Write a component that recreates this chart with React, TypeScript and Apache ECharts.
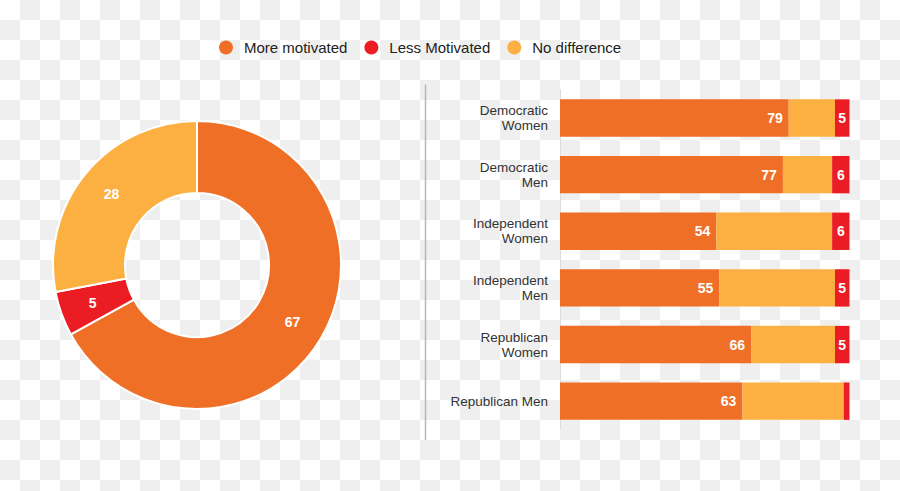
import React, { useEffect, useRef } from "react";
import * as echarts from "echarts";

const seriesNames = ["More motivated", "Less Motivated", "No difference"];
const colors = ["#EF6F26", "#EC1C24", "#FDB042"];
const overallValues = [67, 5, 28];

const groups = [
  "Democratic\nWomen",
  "Democratic\nMen",
  "Independent\nWomen",
  "Independent\nMen",
  "Republican\nWomen",
  "Republican Men",
];
const moreValues = [79, 77, 54, 55, 66, 63];
const noDiffValues = [16, 17, 40, 40, 29, 35];
const lessValues = [5, 6, 6, 5, 5, 2];

const FONT = "Liberation Sans, Arial, Helvetica, sans-serif";

function checkerboard(w: number, h: number, size: number) {
  const cells: any[] = [];
  for (let r = 0; r * size < h; r++) {
    for (let c = 0; c * size < w; c++) {
      if ((r + c) % 2 === 1) {
        cells.push({
          type: "rect",
          shape: { x: c * size, y: r * size, width: size, height: size },
          style: { fill: "#efefef" },
          silent: true,
        });
      }
    }
  }
  return { type: "group", z: -100, silent: true, children: cells };
}

export default function App() {
  const ref = useRef<HTMLDivElement>(null);
  useEffect(() => {
    if (!ref.current) return;
    const chart = echarts.init(ref.current, null, { renderer: "svg" });
    const valueLabel = (min: number) => ({
      show: true,
      color: "#fff",
      fontWeight: "bold" as const,
      fontSize: 14,
      fontFamily: FONT,
      formatter: (p: any) => (p.value >= min ? String(p.value) : ""),
    });
    chart.setOption({
      animation: false,
      backgroundColor: "#ffffff",
      textStyle: { fontFamily: FONT },
      legend: {
        data: seriesNames,
        left: 214,
        top: 35,
        icon: "circle",
        itemWidth: 14,
        itemHeight: 14,
        itemGap: 17,
        textStyle: {
          fontSize: 15,
          color: "#222",
          fontFamily: FONT,
          padding: [0, 0, 0, 6],
        },
        selectedMode: false,
      },
      grid: { left: 560, right: 50.5, top: 89.7, bottom: 61.5 },
      xAxis: { type: "value", min: 0, max: 100, show: false },
      yAxis: {
        type: "category",
        data: groups,
        inverse: true,
        axisLine: { show: true, lineStyle: { color: "#ddd", width: 1 } },
        axisTick: { show: false },
        axisLabel: {
          margin: 12,
          fontSize: 13.5,
          lineHeight: 15,
          color: "#333",
          align: "right",
          fontFamily: FONT,
        },
      },
      graphic: [
        checkerboard(900, 491, 20),
        {
          type: "line",
          shape: { x1: 425.5, y1: 84.5, x2: 425.5, y2: 440 },
          style: { stroke: "#b8b8b8", lineWidth: 1.5 },
        },
      ],
      series: [
        {
          type: "pie",
          name: "Overall",
          center: [197, 265],
          radius: [72, 144],
          startAngle: 90,
          clockwise: true,
          avoidLabelOverlap: false,
          itemStyle: { borderColor: "#fff", borderWidth: 2 },
          label: {
            show: true,
            position: "inside",
            color: "#fff",
            fontWeight: "bold",
            fontSize: 14,
            fontFamily: FONT,
            formatter: "{c}",
          },
          labelLine: { show: false },
          emphasis: { disabled: true },
          data: seriesNames.map((n, i) => ({
            name: n,
            value: overallValues[i],
            itemStyle: { color: colors[i] },
          })),
        },
        {
          type: "bar",
          name: seriesNames[0],
          stack: "total",
          barCategoryGap: "34%",
          itemStyle: { color: colors[0] },
          label: { ...valueLabel(0), position: "insideRight", distance: 6 },
          data: moreValues,
        },
        {
          type: "bar",
          name: seriesNames[2],
          stack: "total",
          barCategoryGap: "34%",
          itemStyle: { color: colors[2] },
          label: { show: false },
          data: noDiffValues,
        },
        {
          type: "bar",
          name: seriesNames[1],
          stack: "total",
          barCategoryGap: "34%",
          itemStyle: { color: colors[1] },
          label: { ...valueLabel(3), position: "inside" },
          data: lessValues,
        },
      ],
    });
    return () => chart.dispose();
  }, []);
  return (
    <div
      ref={ref}
      style={{ position: "fixed", left: 0, top: 0, width: 900, height: 491 }}
    />
  );
}
